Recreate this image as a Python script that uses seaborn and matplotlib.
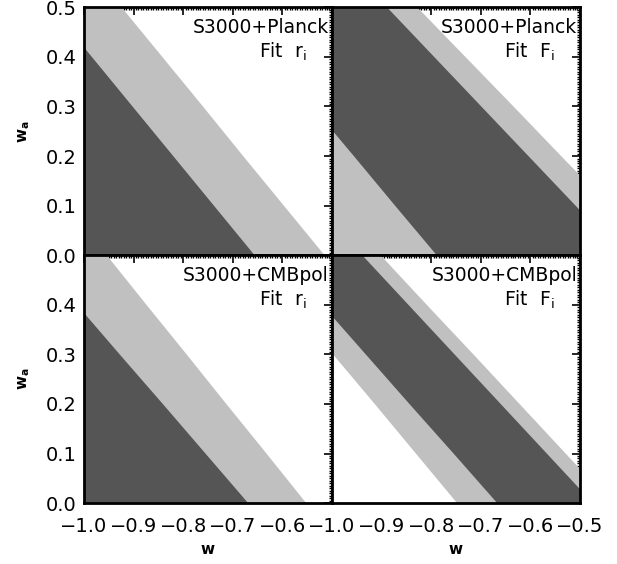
import numpy as np
import seaborn as sns
import matplotlib
matplotlib.use("Agg")
import matplotlib.pyplot as plt
from matplotlib.ticker import MultipleLocator, FuncFormatter

# contour boundaries: w value of each boundary at these w_a values
wa_grid = [0.0, 0.1, 0.2, 0.3, 0.4, 0.5]

# S3000+Planck, fit r_i
planck_r_dark = [-0.656, -0.738, -0.820, -0.902, -0.984, -1.066]
planck_r_light = [-0.515, -0.597, -0.679, -0.760, -0.842, -0.924]

# S3000+Planck, fit F_i
planck_F_light_lo = [-0.789, -0.873, -0.956, -1.040, -1.124, -1.208]
planck_F_dark_hi = [-0.415, -0.509, -0.604, -0.699, -0.794, -0.889]
planck_F_light_hi = [-0.344, -0.441, -0.538, -0.634, -0.731, -0.828]

# S3000+CMBpol, fit r_i
cmbpol_r_dark = [-0.669, -0.755, -0.841, -0.928, -1.014, -1.100]
cmbpol_r_light = [-0.552, -0.632, -0.713, -0.793, -0.874, -0.954]

# S3000+CMBpol, fit F_i
cmbpol_F_light_lo = [-0.748, -0.831, -0.914, -0.998, -1.081, -1.164]
cmbpol_F_dark_lo = [-0.667, -0.755, -0.844, -0.932, -1.020, -1.109]
cmbpol_F_dark_hi = [-0.474, -0.567, -0.660, -0.753, -0.846, -0.939]
cmbpol_F_light_hi = [-0.436, -0.529, -0.622, -0.715, -0.809, -0.902]

x_ticks_left = [-1.0, -0.9, -0.8, -0.7, -0.6]
x_ticks_right = [-1.0, -0.9, -0.8, -0.7, -0.6, -0.5]
y_ticks_top = [0.0, 0.1, 0.2, 0.3, 0.4, 0.5]
y_ticks_bottom = [0.0, 0.1, 0.2, 0.3, 0.4]

DARK = "#555555"
LIGHT = "#c0c0c0"
FAR = -2.0

fmt = FuncFormatter(lambda v, p: ("%.1f" % v).replace("-", "\u2212"))


def styleAxis(ax, xticks, yticks, showX, showY):
    ax.set_xlim(-1.0, -0.5)
    ax.set_ylim(0.0, 0.5)
    ax.set_xticks(xticks)
    ax.set_yticks(yticks)
    ax.xaxis.set_minor_locator(MultipleLocator(0.005))
    ax.yaxis.set_minor_locator(MultipleLocator(0.005))
    ax.tick_params(which="both", direction="in", top=True, right=True, color="black")
    ax.tick_params(which="major", length=6, width=1.2)
    ax.tick_params(which="minor", length=2.5, width=1.0)
    ax.tick_params(axis="x", which="major", pad=10, labelsize=14)
    ax.tick_params(axis="y", which="major", pad=5, labelsize=14)
    ax.xaxis.set_major_formatter(fmt)
    ax.yaxis.set_major_formatter(fmt)
    if not showX:
        ax.tick_params(axis="x", labelbottom=False)
    if not showY:
        ax.tick_params(axis="y", labelleft=False)
    for s in ax.spines.values():
        s.set_linewidth(2.0)
        s.set_color("black")
        s.set_visible(True)
    ax.grid(False)


def addLabel(ax, survey, fit):
    ax.text(0.988, 0.897, survey, transform=ax.transAxes, ha="right",
            va="baseline", fontsize=13.5)
    ax.text(0.90, 0.795, "Fit  " + fit, transform=ax.transAxes, ha="right",
            va="baseline", fontsize=13.5)


def main():
    sns.set_theme(style="white")
    plt.rcParams["font.family"] = ["DejaVu Sans"]
    plt.rcParams["mathtext.default"] = "regular"
    for k in ["text.color", "axes.labelcolor", "xtick.color", "ytick.color"]:
        plt.rcParams[k] = "black"

    fig, axes = plt.subplots(2, 2, figsize=(6.17, 5.64), dpi=100)
    fig.subplots_adjust(left=0.136, right=0.940, bottom=0.108, top=0.987,
                        wspace=0, hspace=0)

    ax = axes[0, 0]
    ax.fill_betweenx(wa_grid, FAR, planck_r_light, color=LIGHT, lw=0)
    ax.fill_betweenx(wa_grid, FAR, planck_r_dark, color=DARK, lw=0)
    addLabel(ax, "S3000+Planck", "r$_i$")
    styleAxis(ax, x_ticks_left, y_ticks_top, False, True)

    ax = axes[0, 1]
    ax.fill_betweenx(wa_grid, FAR, planck_F_light_hi, color=LIGHT, lw=0)
    ax.fill_betweenx(wa_grid, planck_F_light_lo, planck_F_dark_hi, color=DARK, lw=0)
    addLabel(ax, "S3000+Planck", "F$_i$")
    styleAxis(ax, x_ticks_right, y_ticks_top, False, False)

    ax = axes[1, 0]
    ax.fill_betweenx(wa_grid, FAR, cmbpol_r_light, color=LIGHT, lw=0)
    ax.fill_betweenx(wa_grid, FAR, cmbpol_r_dark, color=DARK, lw=0)
    addLabel(ax, "S3000+CMBpol", "r$_i$")
    styleAxis(ax, x_ticks_left, y_ticks_bottom, True, True)

    ax = axes[1, 1]
    ax.fill_betweenx(wa_grid, cmbpol_F_light_lo, cmbpol_F_light_hi, color=LIGHT, lw=0)
    ax.fill_betweenx(wa_grid, cmbpol_F_dark_lo, cmbpol_F_dark_hi, color=DARK, lw=0)
    addLabel(ax, "S3000+CMBpol", "F$_i$")
    styleAxis(ax, x_ticks_right, y_ticks_bottom, True, False)

    for a in axes[:, 0]:
        a.set_ylabel("w$_a$", fontsize=11, fontweight="bold", labelpad=10)
    for a in axes[1, :]:
        a.set_xlabel("w", fontsize=11, fontweight="bold", labelpad=4)

    fig.savefig("out.png", dpi=100)


if __name__ == "__main__":
    main()
